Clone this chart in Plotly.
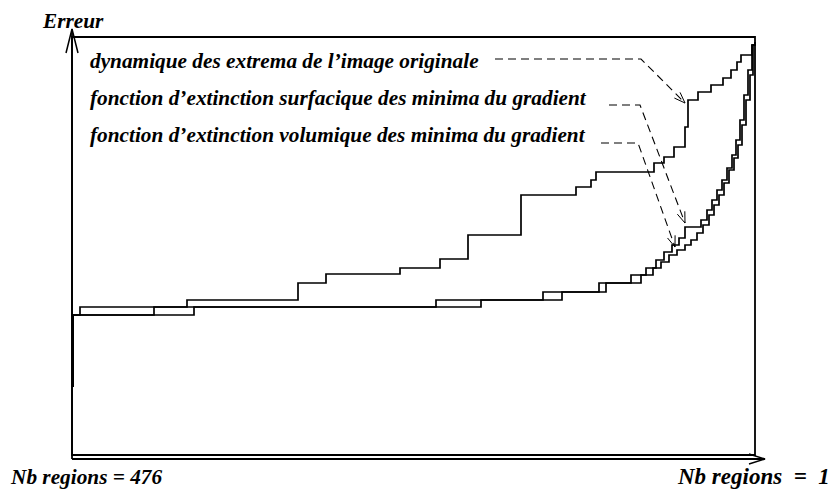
import numpy as np
import plotly.graph_objects as go

# x = merge step (0 = 476 regions, 683 = 1 region), y = error (0 at bottom of the frame)
dyn_x = [1, 1, 8, 115, 226, 254, 328, 368, 396, 449, 504, 519, 524, 582, 592, 602,
         613, 616, 626, 639, 651, 659, 665, 669, 680, 683]
dyn_y = [68, 140, 148, 155, 172, 181, 187, 196, 220, 260, 268, 275, 283, 292, 298, 308,
         328, 355, 363, 370, 377, 385, 393, 400, 410, 413]

surf_x = [1, 1, 82, 364, 471, 527, 559, 574, 584, 592, 600, 607, 613, 629, 635, 640,
          645, 650, 655, 660, 664, 668, 672, 676, 680, 683]
surf_y = [68, 140, 148, 155, 163, 172, 180, 187, 195, 203, 210, 217, 228, 235, 245, 255,
          265, 275, 287, 300, 315, 335, 360, 385, 410, 413]

vol_x = [1, 1, 122, 409, 490, 534, 569, 581, 589, 597, 605, 613, 619, 625, 631, 637,
         642, 647, 652, 657, 662, 666, 670, 674, 678, 681, 683]
vol_y = [68, 140, 148, 155, 163, 172, 180, 187, 193, 200, 205, 210, 215, 222, 230, 240,
         250, 260, 272, 285, 297, 310, 330, 355, 380, 410, 413]

labels = ["dynamique des extrema de l’image originale",
          "fonction d’extinction surfacique des minima du gradient",
          "fonction d’extinction volumique des minima du gradient"]
label_y = [394, 357, 320]

# dashed leaders from each label to its curve
lead_x = [[423, 569, 613], [537, 568, 613], [529, 566, 603]]
lead_y = [[396, 396, 352], [350, 350, 232], [312, 312, 208]]

X_MAX, Y_MAX = 683, 418

font = dict(family="Liberation Serif, Times New Roman, serif", size=21.3,
            color="black", weight="bold", style="italic")

fig = go.Figure()

for xs, ys in [(dyn_x, dyn_y), (surf_x, surf_y), (vol_x, vol_y)]:
    fig.add_trace(go.Scatter(x=xs, y=ys, mode="lines", line_shape="hv",
                             line=dict(color="black", width=1.7), hoverinfo="skip"))


def v_head(x0, y0, x1, y1, length, half):
    # open "V" arrow head at (x1, y1), pointing along (x0,y0)->(x1,y1)
    d = np.array([x1 - x0, y1 - y0], dtype=float)
    d /= np.linalg.norm(d)
    n = np.array([-d[1], d[0]])
    base = np.array([x1, y1]) - d * length
    a = base + n * half
    b = base - n * half
    return [a[0], x1, b[0]], [a[1], y1, b[1]]


for xs, ys in zip(lead_x, lead_y):
    fig.add_trace(go.Scatter(x=xs, y=ys, mode="lines",
                             line=dict(color="black", width=1.1, dash="8px,5px"),
                             hoverinfo="skip"))
    hx, hy = v_head(xs[-2], ys[-2], xs[-1], ys[-1], 11, 4)
    fig.add_trace(go.Scatter(x=hx, y=hy, mode="lines",
                             line=dict(color="black", width=1), hoverinfo="skip"))

# frame
line = dict(color="black", width=1.8)
fig.add_shape(type="rect", x0=0, x1=X_MAX, y0=0, y1=Y_MAX, line=line)
# y axis with arrow
fig.add_shape(type="line", x0=0, x1=0, y0=-4, y1=Y_MAX + 8, line=line)
hx, hy = v_head(0, 0, 0, Y_MAX + 8, 24, 6)
fig.add_trace(go.Scatter(x=hx, y=hy, mode="lines", line=dict(color="black", width=1.5),
                         hoverinfo="skip"))
# x axis with arrow
fig.add_shape(type="line", x0=0, x1=X_MAX + 10, y0=-4, y1=-4, line=line)
hx, hy = v_head(0, -4, X_MAX + 10, -4, 16, 5)
fig.add_trace(go.Scatter(x=hx, y=hy, mode="lines", line=dict(color="black", width=1.5),
                         hoverinfo="skip"))

for txt, yy in zip(labels, label_y):
    fig.add_annotation(x=16, y=yy, text=txt, showarrow=False, xanchor="left",
                       yanchor="middle", font=font)

fig.add_annotation(x=-32, y=434, text="Erreur", showarrow=False, xanchor="left",
                   yanchor="middle", font=font)
fig.add_annotation(x=-64, y=-22, text="Nb regions = 476", showarrow=False,
                   xanchor="left", yanchor="middle", font=font)
nbsp = "\u00a0"
fig.add_annotation(x=760, y=-21, text="Nb regions" + nbsp + " = " + nbsp + "1",
                   showarrow=False, xanchor="right", yanchor="middle",
                   font=dict(font, size=23))

fig.update_layout(width=833, height=489, margin=dict(l=0, r=0, t=0, b=0),
                  paper_bgcolor="white", plot_bgcolor="white", showlegend=False,
                  xaxis=dict(range=[-72, 761], visible=False, fixedrange=True),
                  yaxis=dict(range=[-34, 455], visible=False, fixedrange=True))

fig.write_html("out.html", config={"displayModeBar": False},
               post_script="document.body.style.margin='0';"
                           "document.body.style.overflow='hidden';")
